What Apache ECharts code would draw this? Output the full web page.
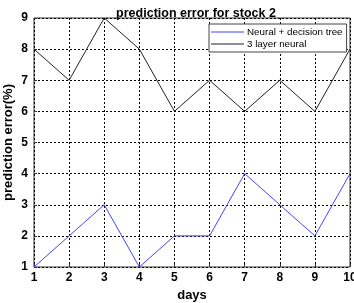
<!DOCTYPE html>
<html>
<head>
<meta charset="utf-8">
<script src="https://cdn.jsdelivr.net/npm/echarts@6/dist/echarts.min.js"></script>
<style>
  html, body { margin: 0; padding: 0; background: #fff; }
  #chart { width: 354px; height: 303px; }
</style>
</head>
<body>
<div id="chart"></div>
<script>
const days = [1, 2, 3, 4, 5, 6, 7, 8, 9, 10];
const neuralTree = [1, 2, 3, 1, 2, 2, 4, 3, 2, 4];
const threeLayer = [8, 7, 9, 8, 6, 7, 6, 7, 6, 8];

const blue = '#4444ff';
const black = '#222';

const chart = echarts.init(document.getElementById('chart'));
const font = 'Liberation Sans, Arial, sans-serif';

chart.setOption({
  animation: false,
  title: {
    text: 'prediction error for stock 2',
    left: 191,
    textAlign: 'center',
    top: 2,
    textStyle: { fontFamily: font, fontSize: 12.5, fontWeight: 'bold', color: '#000' }
  },
  legend: {
    orient: 'vertical',
    left: 209,
    top: 24,
    padding: [3, 4, 3, 2],
    itemGap: 2,
    itemWidth: 33,
    itemHeight: 1,
    icon: 'rect',
    backgroundColor: '#fff',
    borderColor: '#444',
    borderWidth: 1,
    borderRadius: 0,
    textStyle: { fontFamily: font, fontSize: 9.8, color: '#000', padding: [0, 0, 0, -2] },
    data: [
      { name: 'Neural + decision tree', itemStyle: { color: blue, borderWidth: 0 } },
      { name: '3 layer neural', itemStyle: { color: black, borderWidth: 0 } }
    ]
  },
  grid: {
    left: 34, right: 4, top: 18, bottom: 36,
    outerBoundsMode: 'none',
    containLabel: false,
    show: true, borderColor: '#333', borderWidth: 1
  },
  xAxis: {
    type: 'value',
    min: 1, max: 10, interval: 1,
    name: 'days',
    nameLocation: 'middle',
    nameGap: 22,
    nameMoveOverlap: false,
    nameTextStyle: { fontFamily: font, fontSize: 13, fontWeight: 'bold', color: '#000' },
    axisLine: { show: false },
    axisTick: { inside: true, length: 3, lineStyle: { color: '#333' } },
    axisLabel: { fontFamily: font, fontSize: 12, fontWeight: 'bold', color: '#000', margin: 5 },
    splitLine: { lineStyle: { color: '#000', type: [2, 2], width: 1 } }
  },
  yAxis: {
    type: 'value',
    min: 1, max: 9, interval: 1,
    name: 'prediction error(%)',
    nameLocation: 'middle',
    nameGap: 19,
    nameMoveOverlap: false,
    nameTextStyle: { fontFamily: font, fontSize: 13, fontWeight: 'bold', color: '#000' },
    axisLine: { show: false },
    axisTick: { inside: true, length: 3, lineStyle: { color: '#333' } },
    axisLabel: { fontFamily: font, fontSize: 12, fontWeight: 'bold', color: '#000', margin: 6 },
    splitLine: { lineStyle: { color: '#000', type: [2, 2], width: 1 } }
  },
  series: [
    {
      name: 'Neural + decision tree',
      type: 'line',
      symbol: 'none',
      lineStyle: { color: blue, width: 1 },
      itemStyle: { color: blue },
      data: days.map((d, i) => [d, neuralTree[i]])
    },
    {
      name: '3 layer neural',
      type: 'line',
      symbol: 'none',
      lineStyle: { color: black, width: 1 },
      itemStyle: { color: black },
      data: days.map((d, i) => [d, threeLayer[i]])
    }
  ]
});
</script>
</body>
</html>
